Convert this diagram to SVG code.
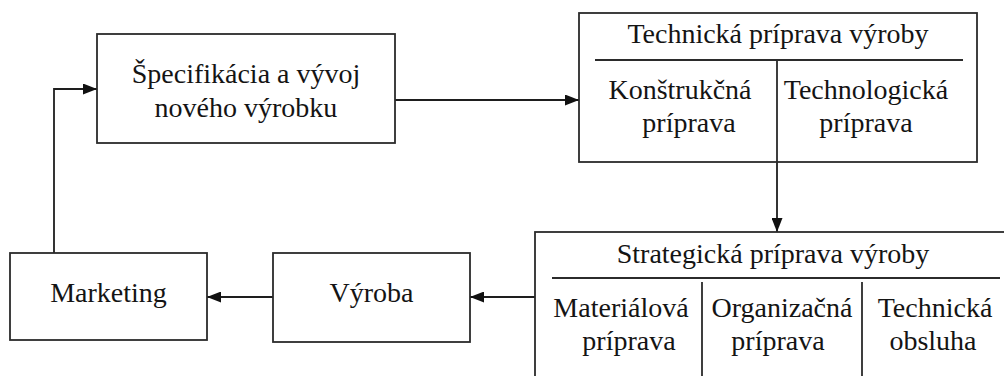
<svg xmlns="http://www.w3.org/2000/svg" width="1004" height="376" viewBox="0 0 1004 376">
  <style>
    .box { fill: #ffffff; stroke: #2b2b2b; stroke-width: 1.8; }
    .rule { stroke: #2b2b2b; stroke-width: 1.8; fill: none; }
    .wire { stroke: #1e1e1e; stroke-width: 1.8; fill: none; marker-end: url(#head); }
    .lbl { font-family: 'Liberation Serif', 'DejaVu Serif', serif; font-size: 28px; fill: #141414; text-anchor: middle; }
  </style>
  <defs>
    <marker id="head" viewBox="0 0 14 11" refX="14" refY="5.5" markerWidth="14" markerHeight="11" markerUnits="userSpaceOnUse" orient="auto">
      <path d="M0,0 L14,5.5 L0,11 Z" fill="#111111"/>
    </marker>
  </defs>

  <rect width="1004" height="376" fill="#ffffff"/>

  <!-- connectors -->
  <g id="connectors">
    <path class="wire" d="M395,100 H579"/>
    <path class="wire" d="M777,162 V232"/>
    <path class="wire" d="M535,297 H470"/>
    <path class="wire" d="M273,297 H207"/>
    <path class="wire" d="M54,253 V89 H97"/>
  </g>

  <!-- product specification and development -->
  <g id="specifikacia" class="lbl">
    <rect class="box" x="97" y="34" width="298" height="109"/>
    <text x="246" y="83">Špecifikácia a vývoj</text>
    <text x="246" y="117">nového výrobku</text>
  </g>

  <!-- technical preparation of production -->
  <g id="technicka-priprava" class="lbl">
    <rect class="box" x="579" y="13" width="398" height="149"/>
    <text x="778" y="43">Technická príprava výroby</text>
    <path class="rule" d="M595,60 H963 M777,60 V162"/>
    <text x="680" y="99">Konštrukčná</text>
    <text x="689" y="132">príprava</text>
    <text x="866" y="99">Technologická</text>
    <text x="866" y="132">príprava</text>
  </g>

  <!-- strategic preparation of production -->
  <g id="strategicka-priprava" class="lbl">
    <rect class="box" x="535" y="232" width="485" height="160"/>
    <text x="773" y="263">Strategická príprava výroby</text>
    <path class="rule" d="M552,278 H1000 M702,282 V376 M862,282 V376"/>
    <text x="621" y="317">Materiálová</text>
    <text x="629" y="350">príprava</text>
    <text x="782" y="317">Organizačná</text>
    <text x="778" y="350">príprava</text>
    <text x="935" y="317">Technická</text>
    <text x="933" y="350">obsluha</text>
  </g>

  <!-- production -->
  <g id="vyroba" class="lbl">
    <rect class="box" x="273" y="253" width="197" height="89"/>
    <text x="371.5" y="302">Výroba</text>
  </g>

  <!-- marketing -->
  <g id="marketing" class="lbl">
    <rect class="box" x="10" y="253" width="197" height="87"/>
    <text x="108.5" y="302">Marketing</text>
  </g>
</svg>
